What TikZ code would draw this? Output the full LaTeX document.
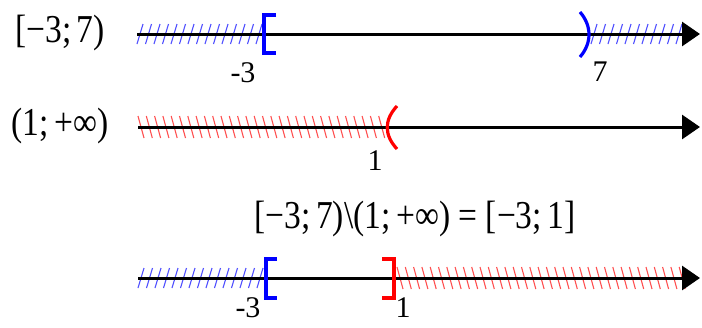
\documentclass[tikz,border=0pt]{standalone}
\usepackage{fontspec}
\setmainfont{Liberation Serif}
\usetikzlibrary{arrows.meta}
\definecolor{hblue}{RGB}{80,80,255}
\definecolor{hred}{RGB}{255,80,80}
\newcommand{\tallt}[1]{\scalebox{1}[1.18]{#1}}
\begin{document}
\begin{tikzpicture}[x=1pt,y=-1pt,
  axis/.style={line width=3pt, -{Triangle[length=18pt,width=24pt]}},
  lbl/.style={font=\fontsize{33.5}{40}\selectfont, inner sep=0pt},
  num/.style={font=\fontsize{30}{34}\selectfont, inner sep=0pt},
  bhatch/.style={hblue, line width=1.1pt},
  rhatch/.style={hred, line width=1.1pt},
  blueb/.style={blue, line width=3.2pt},
  redb/.style={red, line width=3.2pt}]
\useasboundingbox (0,0) rectangle (702,327);

% ---- line 1: [-3;7)
\node[lbl] (t1) at (60,33) {\tallt{[−3;\,7)}};
\coordinate (a1) at (137,34);
\coordinate (b1) at (700,34);
\foreach \x in {137,145.5,...,258} \draw[bhatch] (\x,44) -- (\x+6,24);
\foreach \x in {591,599.5,...,680} \draw[bhatch] (\x,44) -- (\x+6,24);
\draw[axis] (a1) -- (b1);
\draw[blueb] (276,15) -- (264,15) -- (264,53) -- (276,53);
\draw[blueb] (580,12) .. controls (592,26) and (592,43) .. (580,57);
\node[num] (n1) at (243,73) {-3};
\node[num] (n2) at (600,72) {7};

% ---- line 2: (1;+inf)
\node[lbl] (t2) at (60,126) {\tallt{(1;\,+∞)}};
\coordinate (a2) at (138,127);
\coordinate (b2) at (700,127);
\foreach \x in {138,146.3,...,383} \draw[rhatch] (\x,116) -- (\x+6,138);
\draw[axis] (a2) -- (b2);
\draw[redb] (397,106) .. controls (384,120) and (384,135) .. (397,149);
\node[num] (n3) at (375,161) {1};

% ---- formula
\node[lbl] (f) at (415,219) {\tallt{[−3;\,7)\textbackslash(1;\,+∞) = [−3;\,1]}};

% ---- line 3
\coordinate (a3) at (138,278);
\coordinate (b3) at (700,278);
\foreach \x in {138,146.5,...,260} \draw[bhatch] (\x,288) -- (\x+6,268);
\foreach \x in {397,405.3,...,680} \draw[rhatch] (\x,267) -- (\x+6,289);
\draw[axis] (a3) -- (b3);
\draw[blueb] (277,259) -- (266,259) -- (266,298) -- (277,298);
\draw[redb] (382,259) -- (394,259) -- (394,298) -- (382,298);
\node[num] (n4) at (248,308) {-3};
\node[num] (n5) at (403,308) {1};
\end{tikzpicture}
\end{document}
